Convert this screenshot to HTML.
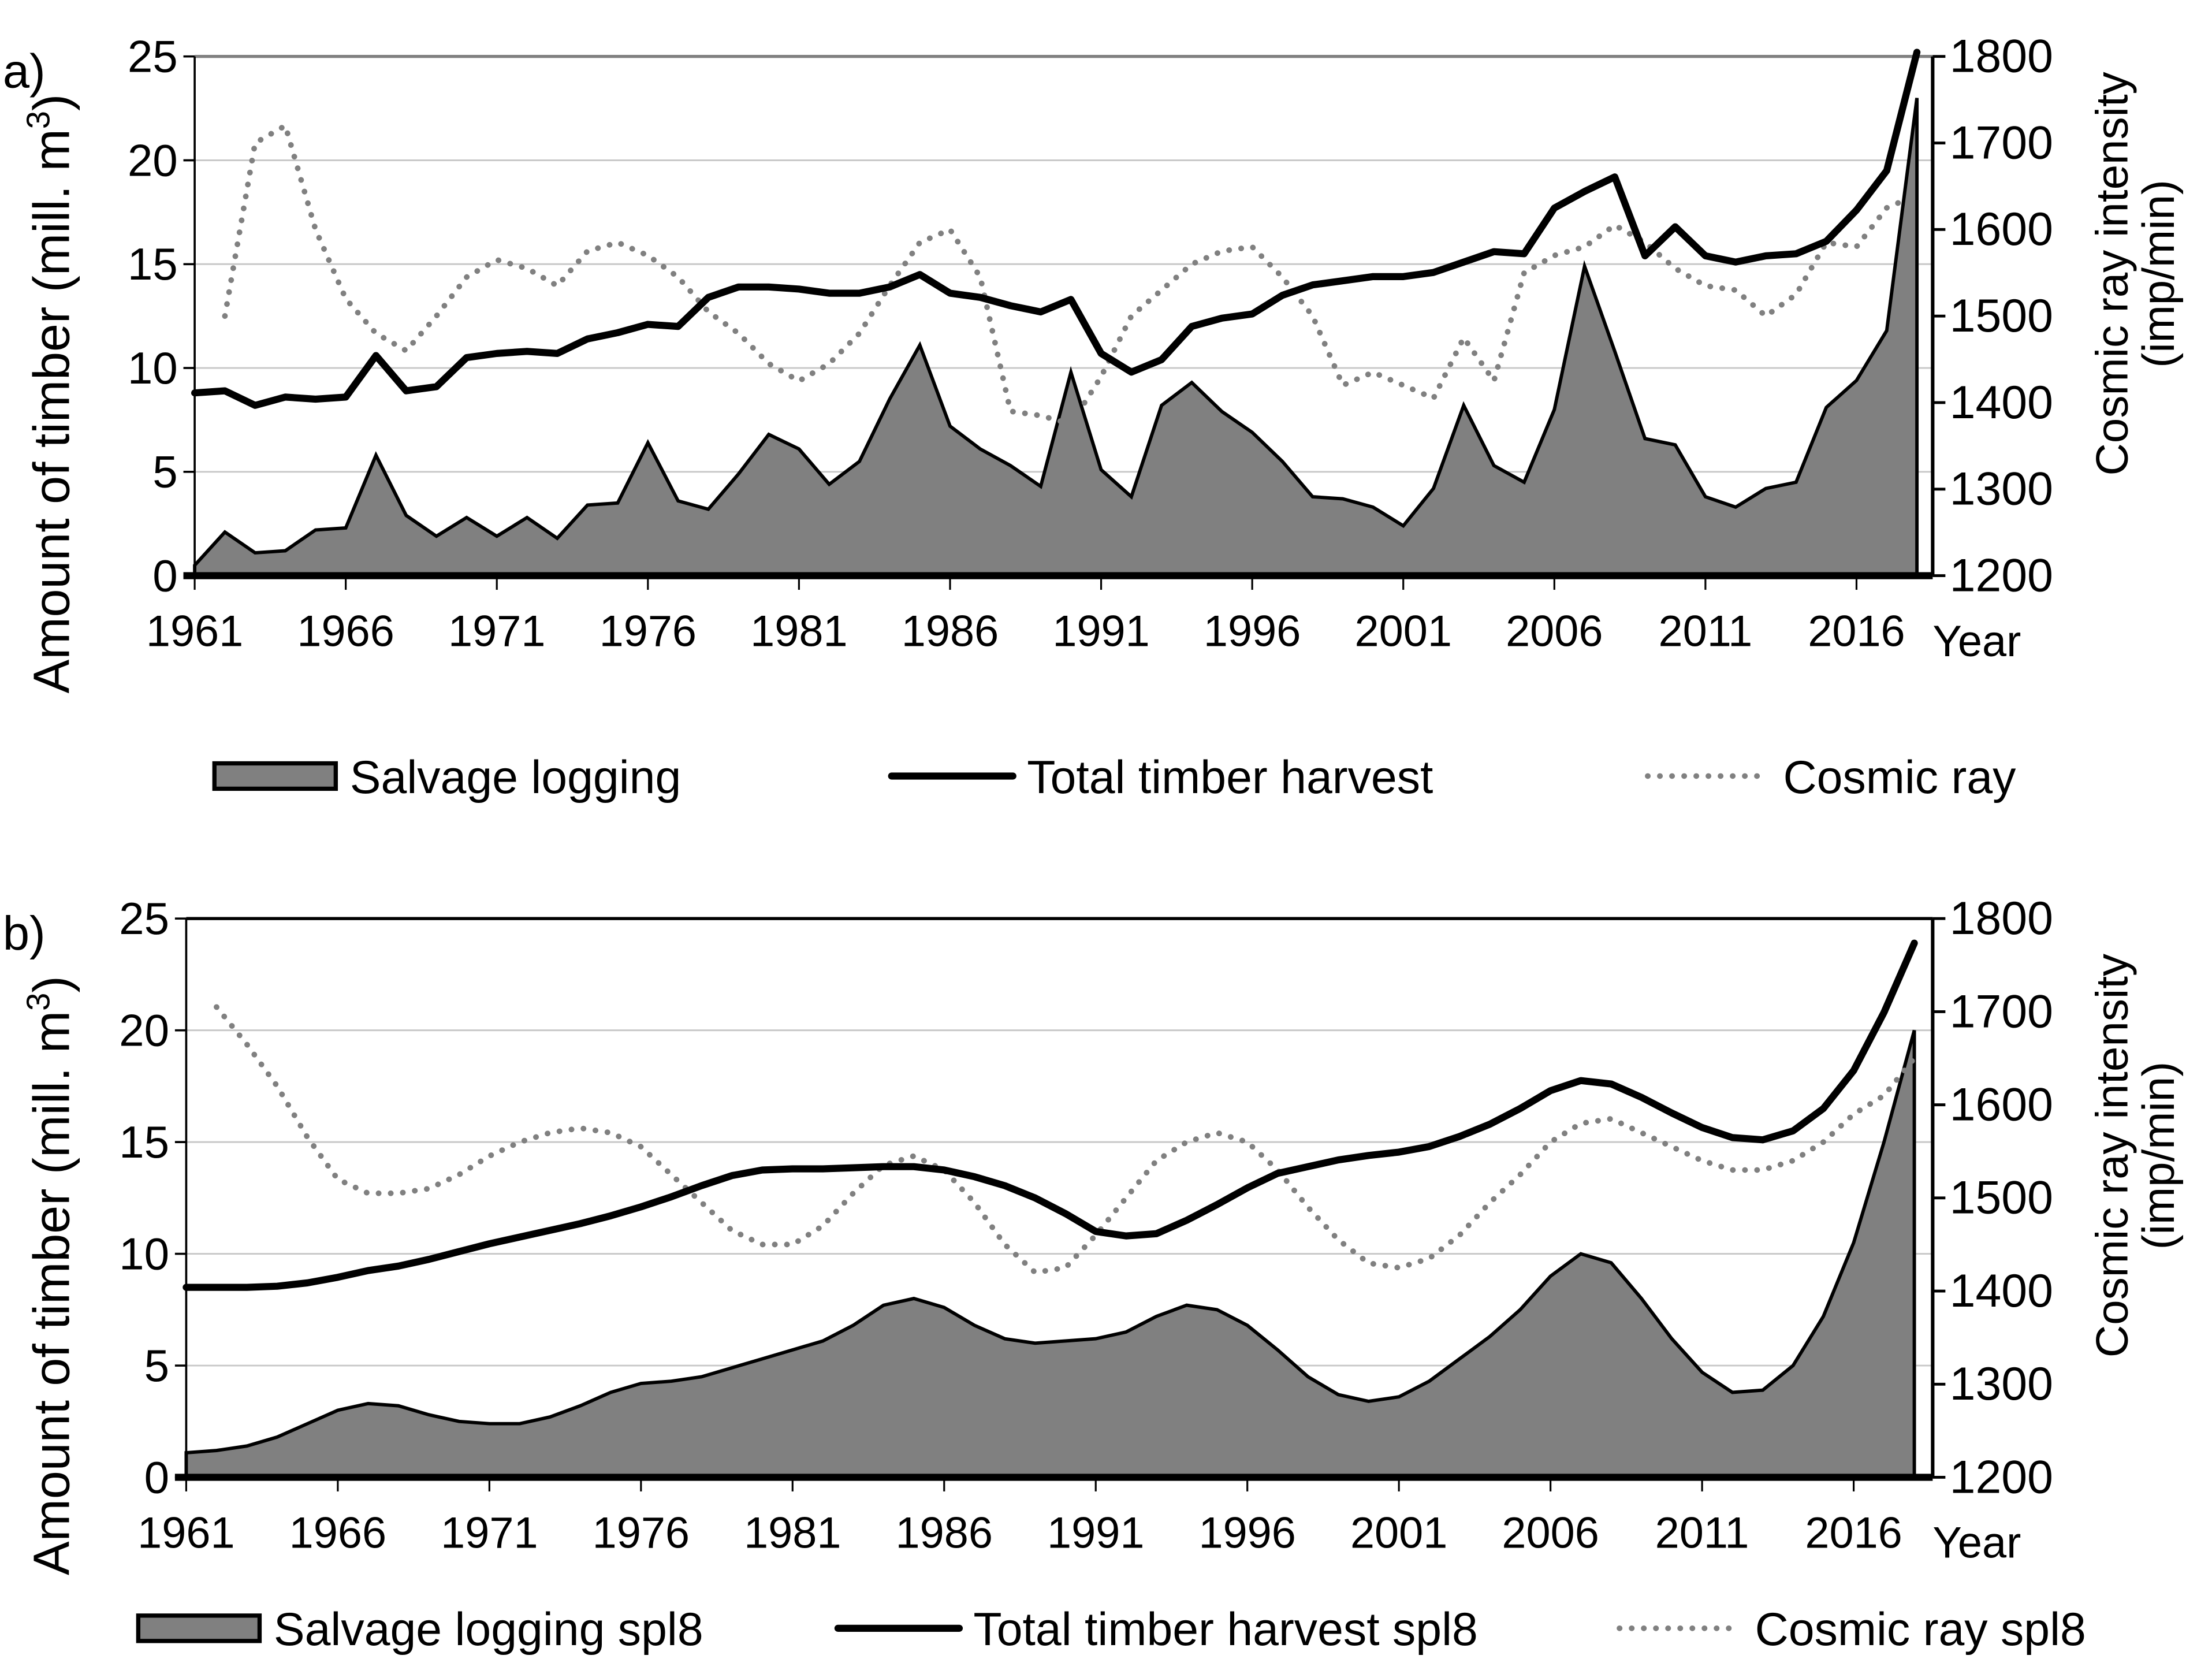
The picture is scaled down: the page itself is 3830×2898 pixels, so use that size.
<!DOCTYPE html>
<html><head><meta charset="utf-8"><style>
html,body{margin:0;padding:0;background:#fff;}
svg{display:block;font-family:"Liberation Sans",Arial,sans-serif;}
</style></head><body>
<svg id="chart" width="3830" height="2898" viewBox="0 0 1568 1186.4" preserveAspectRatio="none">
<g id="root"></g>
</svg>
<script>
const years = [];
for (let y = 1961; y <= 2018; y++) years.push(y);
const salvageA = [0.5,2.1,1.1,1.2,2.2,2.3,5.8,2.9,1.9,2.8,1.9,2.8,1.8,3.4,3.5,6.4,3.6,3.2,4.9,6.8,6.1,4.4,5.5,8.5,11.1,7.2,6.1,5.3,4.3,9.8,5.1,3.8,8.2,9.3,7.9,6.9,5.5,3.8,3.7,3.3,2.4,4.2,8.2,5.3,4.5,8.0,14.9,10.8,6.6,6.3,3.8,3.3,4.2,4.5,8.1,9.4,11.8,23.0];
const totalA = [8.8,8.9,8.2,8.6,8.5,8.6,10.6,8.9,9.1,10.5,10.7,10.8,10.7,11.4,11.7,12.1,12.0,13.4,13.9,13.9,13.8,13.6,13.6,13.9,14.5,13.6,13.4,13.0,12.7,13.3,10.7,9.8,10.4,12.0,12.4,12.6,13.5,14.0,14.2,14.4,14.4,14.6,15.1,15.6,15.5,17.7,18.5,19.2,15.4,16.8,15.4,15.1,15.4,15.5,16.1,17.6,19.5,25.3];
const cosmicA = [null,1500,1700,1720,1600,1520,1480,1460,1500,1545,1565,1555,1535,1575,1585,1570,1545,1505,1480,1445,1425,1445,1480,1535,1585,1600,1545,1390,1385,1375,1430,1500,1530,1560,1575,1580,1545,1500,1420,1435,1420,1405,1475,1425,1550,1570,1580,1605,1585,1555,1535,1530,1500,1525,1585,1580,1625,1640];
const salvageB = [1.1,1.2,1.4,1.8,2.4,3.0,3.3,3.2,2.8,2.5,2.4,2.4,2.7,3.2,3.8,4.2,4.3,4.5,4.9,5.3,5.7,6.1,6.8,7.7,8.0,7.6,6.8,6.2,6.0,6.1,6.2,6.5,7.2,7.7,7.5,6.8,5.7,4.5,3.7,3.4,3.6,4.3,5.3,6.3,7.5,9.0,10.0,9.6,8.0,6.2,4.7,3.8,3.9,5.0,7.2,10.5,15.0,20.0];
const totalB = [8.5,8.5,8.5,8.55,8.7,8.95,9.25,9.45,9.75,10.1,10.45,10.75,11.05,11.35,11.7,12.1,12.55,13.05,13.5,13.75,13.8,13.8,13.85,13.9,13.9,13.75,13.45,13.05,12.5,11.8,11.0,10.8,10.9,11.5,12.2,12.95,13.6,13.9,14.2,14.4,14.55,14.8,15.25,15.8,16.5,17.3,17.75,17.6,17.0,16.3,15.65,15.2,15.1,15.5,16.5,18.2,20.8,23.9];
const cosmicB = [null,1705,1665,1620,1565,1520,1505,1505,1510,1525,1545,1560,1570,1575,1570,1555,1525,1495,1465,1450,1450,1470,1505,1535,1545,1530,1495,1450,1420,1425,1460,1500,1540,1560,1570,1560,1530,1490,1455,1430,1425,1435,1460,1495,1525,1560,1580,1585,1570,1555,1540,1530,1530,1540,1560,1590,1610,1650];
const leftTicks = [0,5,10,15,20,25];
const gridLevels = [5,10,15,20];
const rightTicks = [1200,1300,1400,1500,1600,1700,1800];
const xLabels = [1961,1966,1971,1976,1981,1986,1991,1996,2001,2006,2011,2016];

const NS = "http://www.w3.org/2000/svg";
const root = document.getElementById('root');
function mk(tag, attrs, parent, text){
  const e = document.createElementNS(NS, tag);
  for (const k in attrs) e.setAttribute(k, attrs[k]);
  if (text !== undefined) e.textContent = text;
  (parent || root).appendChild(e);
  return e;
}

function panel(cfg){
  const g = mk('g', {});
  
  
  const L = cfg.left, R = 1370, T = cfg.top, B = cfg.bottom;
  const x1961 = cfg.x0, step = (cfg.x2016 - cfg.x0) / 55;
  const xs = y => x1961 + (y - 1961) * step;
  const yl = v => B - (v / 25) * (B - T);
  const yr = v => B - ((v - 1200) / 600) * (B - T);
  gridLevels.forEach(v => {
    const l = mk('line', {x1:L, x2:R, y1:yl(v), y2:yl(v), stroke:'#c8c8c8', 'stroke-width':1.2}, g);
    
    
  });
  const tb = mk('line', {x1:L, x2:R, y1:T, y2:T, stroke:cfg.topColor, 'stroke-width':2.2}, g);
  
  
  let d = 'M' + xs(1961) + ',' + yl(0);
  cfg.salvage.forEach((v, i) => { d += ' L' + xs(years[i]) + ',' + yl(v); });
  d += ' L' + xs(2018) + ',' + yl(0) + ' Z';
  const area = mk('path', {d:d, fill:'#808080', stroke:'#000', 'stroke-width':2.4, 'stroke-linejoin':'miter'}, g);
  
  
  let dc = '';
  cfg.cosmic.forEach((v, i) => { if (v === null) return; dc += (dc ? ' L' : 'M') + xs(years[i]) + ',' + yr(v); });
  const cl = mk('path', {d:dc, fill:'none', stroke:'#808080', 'stroke-width':4, 'stroke-dasharray':'0.1 8.5', 'stroke-linecap':'round'}, g);
  
  
  let dt = '';
  cfg.total.forEach((v, i) => { dt += (i ? ' L' : 'M') + xs(years[i]) + ',' + yl(Math.min(v, 25.2)); });
  const tl = mk('path', {d:dt, fill:'none', stroke:'#000', 'stroke-width':5, 'stroke-linejoin':'round', 'stroke-linecap':'round'}, g);
  
  
  const la = mk('line', {x1:L, x2:L, y1:T, y2:B, stroke:'#000', 'stroke-width':1.5}, g);
  
  
  const ra = mk('line', {x1:R, x2:R, y1:T, y2:B, stroke:'#000', 'stroke-width':2.5}, g);
  
  
  const xa = mk('line', {x1:L-8, x2:R, y1:B, y2:B, stroke:'#000', 'stroke-width':5}, g);
  
  
  leftTicks.forEach(v => {
    const t = mk('line', {x1:L-8, x2:L, y1:yl(v), y2:yl(v), stroke:'#000', 'stroke-width':1.5}, g);
    
    
    const tx = mk('text', {x:L-12, y:yl(v)+11, 'font-size':32, 'text-anchor':'end'}, g, String(v));
    
    
  });
  rightTicks.forEach(v => {
    const t = mk('line', {x1:R, x2:R+9, y1:yr(v), y2:yr(v), stroke:'#000', 'stroke-width':2}, g);
    
    
    const tx = mk('text', {x:R+12, y:yr(v)+11, 'font-size':33}, g, String(v));
    
    
  });
  for (let y = 1961; y <= 2018; y += 5) {
    const t = mk('line', {x1:xs(y), x2:xs(y), y1:B, y2:B+10, stroke:'#000', 'stroke-width':1.3}, g);
    
    
  }
  xLabels.forEach(y => {
    const tx = mk('text', {x:xs(y), y:B+50, 'font-size':31, 'text-anchor':'middle'}, g, String(y));
    
    
  });
  const yt = mk('text', {x:1370, y:B+57, 'font-size':31}, g, 'Year');
  
  
  const cy = (T + B) / 2;
  const lt = mk('text', {transform:'translate(49,'+(cy+55)+') rotate(-90)', 'font-size':36, 'text-anchor':'middle'}, g);
  
  
  lt.appendChild(document.createTextNode('Amount of timber (mill. m'));
  mk('tspan', {'font-size':23, dy:-14}, lt, '3');
  mk('tspan', {dy:14}, lt, ')');
  const rt = mk('text', {transform:'translate(1508,'+(cy-30)+') rotate(-90)', 'font-size':32, 'text-anchor':'middle'}, g, 'Cosmic ray intensity');
  
  
  const rt2 = mk('text', {transform:'translate(1541,'+(cy-30)+') rotate(-90)', 'font-size':32, 'text-anchor':'middle'}, g, '(imp/min)');
  
  
  const pl = mk('text', {x:cfg.labelX, y:T+22, 'font-size':34}, g, cfg.label);
  
  
  const lg = mk('g', {}, g);
  
  
  const ly = cfg.legY;
  const r1 = mk('rect', {x:cfg.leg[0], y:ly-9, width:86, height:18, fill:'#808080', stroke:'#000', 'stroke-width':3}, lg);
  
  
  const t1 = mk('text', {x:cfg.leg[0]+96, y:ly+12, 'font-size':33}, lg, cfg.legText[0]);
  
  
  const l2 = mk('line', {x1:cfg.leg[1], x2:cfg.leg[1]+86, y1:ly, y2:ly, stroke:'#000', 'stroke-width':5, 'stroke-linecap':'round'}, lg);
  
  
  const t2 = mk('text', {x:cfg.leg[1]+96, y:ly+12, 'font-size':33}, lg, cfg.legText[1]);
  
  
  const l3 = mk('line', {x1:cfg.leg[2], x2:cfg.leg[2]+86, y1:ly, y2:ly, stroke:'#808080', 'stroke-width':4, 'stroke-dasharray':'0.1 8.5', 'stroke-linecap':'round'}, lg);
  
  
  const t3 = mk('text', {x:cfg.leg[2]+96, y:ly+12, 'font-size':33}, lg, cfg.legText[2]);
  
  
}

panel({name:'panel-a', left:138, top:40, bottom:408, x0:138, x2016:1316, topColor:'#808080',
  salvage:salvageA, total:totalA, cosmic:cosmicA, label:'a)', labelX:2,
  legY:550, leg:[152,632,1168], legText:['Salvage logging','Total timber harvest','Cosmic ray']});
panel({name:'panel-b', left:132, top:651, bottom:1047, x0:132, x2016:1314, topColor:'#000',
  salvage:salvageB, total:totalB, cosmic:cosmicB, label:'b)', labelX:2,
  legY:1154, leg:[98,594,1148], legText:['Salvage logging spl8','Total timber harvest spl8','Cosmic ray spl8']});
</script>
</body></html>
